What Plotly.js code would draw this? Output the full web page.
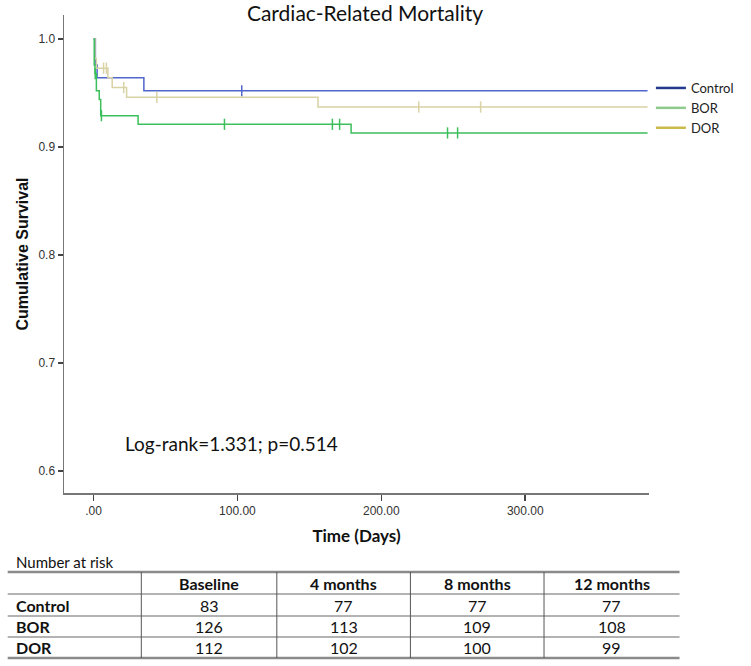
<!DOCTYPE html>
<html>
<head>
<meta charset="utf-8">
<script src="https://cdn.plot.ly/plotly-3.0.1.min.js"></script>
<style>
  body { margin: 0; background: #fff; }
  #chart { width: 751px; height: 666px; }
</style>
</head>
<body>
<div id="chart"></div>
<script>
// Kaplan-Meier step data (days, cumulative survival)
const ctrlDays = [0, 1.3, 2.5, 35, 385];
const ctrlSurv = [1.0, 0.976, 0.964, 0.952, 0.952];
const ctrlCensDays = [103];
const ctrlCensSurv = [0.952];

const borDays = [0, 0.5, 1, 2, 4, 5, 31, 179, 385];
const borSurv = [1.0, 0.976, 0.968, 0.952, 0.944, 0.929, 0.921, 0.913, 0.913];
const borCensDays = [1.2, 5.5, 91, 166, 171, 246, 253];
const borCensSurv = [0.968, 0.929, 0.921, 0.921, 0.921, 0.913, 0.913];

const dorDays = [0, 1, 2, 10, 13, 23, 156, 385];
const dorSurv = [1.0, 0.982, 0.973, 0.964, 0.955, 0.946, 0.937, 0.937];
const dorCensDays = [7, 9, 21, 44, 226, 269];
const dorCensSurv = [0.973, 0.973, 0.955, 0.946, 0.937, 0.937];

const groups = ['Control', 'BOR', 'DOR'];
const xTickVals = [0, 100, 200, 300];
const xTickText = ['.00', '100.00', '200.00', '300.00'];
const yTickVals = [0.6, 0.7, 0.8, 0.9, 1.0];
const yTickText = ['0.6', '0.7', '0.8', '0.9', '1.0'];

// number at risk table
const riskCols = ['Baseline', '4 months', '8 months', '12 months'];
const riskControl = [83, 77, 77, 77];
const riskBOR = [126, 113, 109, 108];
const riskDOR = [112, 102, 100, 99];

const curveColors = { Control: '#5066cc', BOR: '#3cbf5c', DOR: '#d8d2a4' };
const legendColors = { Control: '#22398c', BOR: '#8dca8b', DOR: '#cbbb4c' };

function stepTrace(x, y, color) {
  return { x: x, y: y, mode: 'lines', type: 'scatter', line: { shape: 'hv', color: color, width: 1.5 },
    showlegend: false, hoverinfo: 'skip' };
}
function censTrace(x, y, color) {
  return { x: x, y: y, mode: 'markers', type: 'scatter',
    marker: { symbol: 'line-ns-open', size: 8, color: color, line: { color: color, width: 1.5 } },
    showlegend: false, hoverinfo: 'skip' };
}

const traces = [
  stepTrace(ctrlDays, ctrlSurv, curveColors.Control),
  censTrace(ctrlCensDays, ctrlCensSurv, curveColors.Control),
  stepTrace(dorDays, dorSurv, curveColors.DOR),
  censTrace(dorCensDays, dorCensSurv, curveColors.DOR),
  stepTrace(borDays, borSurv, curveColors.BOR),
  censTrace(borCensDays, borCensSurv, curveColors.BOR)
];
// legend entries only
groups.forEach(g => {
  traces.push({ x: [null], y: [null], mode: 'lines', type: 'scatter', name: g,
    line: { color: legendColors[g], width: 2.5 } });
});

// table helpers: page pixels -> paper coords
const L = 64, R = 677, T = 15, B = 493;
const px = v => (v - L) / (R - L);
const py = v => (B - v) / (B - T);

const annotations = [
  { text: 'Log-rank=1.331; p=0.514', xref: 'paper', yref: 'paper', x: px(126), y: py(443),
    xanchor: 'left', yanchor: 'middle', showarrow: false,
    font: { family: 'Lato, sans-serif', size: 19, color: '#111' } },
  { text: 'Number at risk', xref: 'paper', yref: 'paper', x: px(12), y: py(562),
    xanchor: 'left', yanchor: 'middle', showarrow: false,
    font: { family: 'Lato, sans-serif', size: 15, color: '#111' } }
];
const shapes = [];

const tblLeft = 5, tblRight = 709;
const colEdges = [145, 287, 427, 567, 709];
const rowLines = [572, 594, 616, 637, 658];
const rowLabels = ['Control', 'BOR', 'DOR'];
const rowData = [riskControl, riskBOR, riskDOR];

rowLines.forEach((y, i) => {
  const edge = i === 0 || i === rowLines.length - 1;
  shapes.push({ type: 'line', xref: 'paper', yref: 'paper', x0: px(tblLeft), x1: px(tblRight),
    y0: py(y), y1: py(y), line: { color: edge ? '#8a8a8a' : '#9a9a9a', width: edge ? 2.5 : 1.5 } });
});
colEdges.slice(0, 4).forEach(x => {
  shapes.push({ type: 'line', xref: 'paper', yref: 'paper', x0: px(x), x1: px(x),
    y0: py(rowLines[0]), y1: py(rowLines[4]), line: { color: '#555', width: 1 } });
});
riskCols.forEach((c, j) => {
  const cx = (colEdges[j] + colEdges[j + 1]) / 2;
  annotations.push({ text: '<b>' + c + '</b>', xref: 'paper', yref: 'paper', x: px(cx),
    y: py((rowLines[0] + rowLines[1]) / 2), xanchor: 'center', yanchor: 'middle', showarrow: false,
    font: { family: 'Lato, sans-serif', size: 16, color: '#111' } });
});
rowLabels.forEach((r, i) => {
  const cy = (rowLines[i + 1] + rowLines[i + 2]) / 2;
  annotations.push({ text: '<b>' + r + '</b>', xref: 'paper', yref: 'paper', x: px(12), y: py(cy),
    xanchor: 'left', yanchor: 'middle', showarrow: false,
    font: { family: 'Lato, sans-serif', size: 16, color: '#111' } });
  rowData[i].forEach((v, j) => {
    const cx = (colEdges[j] + colEdges[j + 1]) / 2;
    annotations.push({ text: String(v), xref: 'paper', yref: 'paper', x: px(cx), y: py(cy),
      xanchor: 'center', yanchor: 'middle', showarrow: false,
      font: { family: 'Lato, sans-serif', size: 16, color: '#111' } });
  });
});

const layout = {
  width: 751, height: 666,
  margin: { l: L, r: 751 - R, t: T, b: 666 - B },
  paper_bgcolor: '#fff', plot_bgcolor: '#fff',
  title: { text: 'Cardiac-Related Mortality', xref: 'container', yref: 'container',
    x: 0.486, y: 1 - 14 / 666, xanchor: 'center', yanchor: 'middle',
    font: { family: 'Lato, sans-serif', size: 21, color: '#111' } },
  xaxis: {
    range: [-20.5, 386], showgrid: false, zeroline: false, showline: true,
    linecolor: '#777', linewidth: 1.5, ticks: 'outside', ticklen: 6, tickcolor: '#444', tickwidth: 1.5,
    tickvals: xTickVals, ticktext: xTickText,
    tickfont: { family: 'Liberation Sans, Arial, sans-serif', size: 12, color: '#333' },
    title: { text: '<b>Time (Days)</b>', standoff: 13,
      font: { family: 'Lato, sans-serif', size: 17, color: '#111' } }
  },
  yaxis: {
    range: [0.5796, 1.0222], showgrid: false, zeroline: false, showline: true,
    linecolor: '#777', linewidth: 1.5, ticks: 'outside', ticklen: 5, tickcolor: '#444', tickwidth: 1.5,
    tickvals: yTickVals, ticktext: yTickText,
    tickfont: { family: 'Liberation Sans, Arial, sans-serif', size: 12, color: '#333' },
    title: { text: '<b>Cumulative Survival</b>', standoff: 6,
      font: { family: 'Liberation Sans, Arial, sans-serif', size: 16, color: '#111' } }
  },
  legend: { x: px(679), y: py(73), xref: 'paper', yref: 'paper', xanchor: 'left', yanchor: 'top',
    bgcolor: 'rgba(0,0,0,0)', borderwidth: 0, itemwidth: 30,
    font: { family: 'Lato, sans-serif', size: 13, color: '#222' } },
  shapes: shapes,
  annotations: annotations
};

Plotly.newPlot('chart', traces, layout, { displayModeBar: false, staticPlot: true });
</script>
</body>
</html>
